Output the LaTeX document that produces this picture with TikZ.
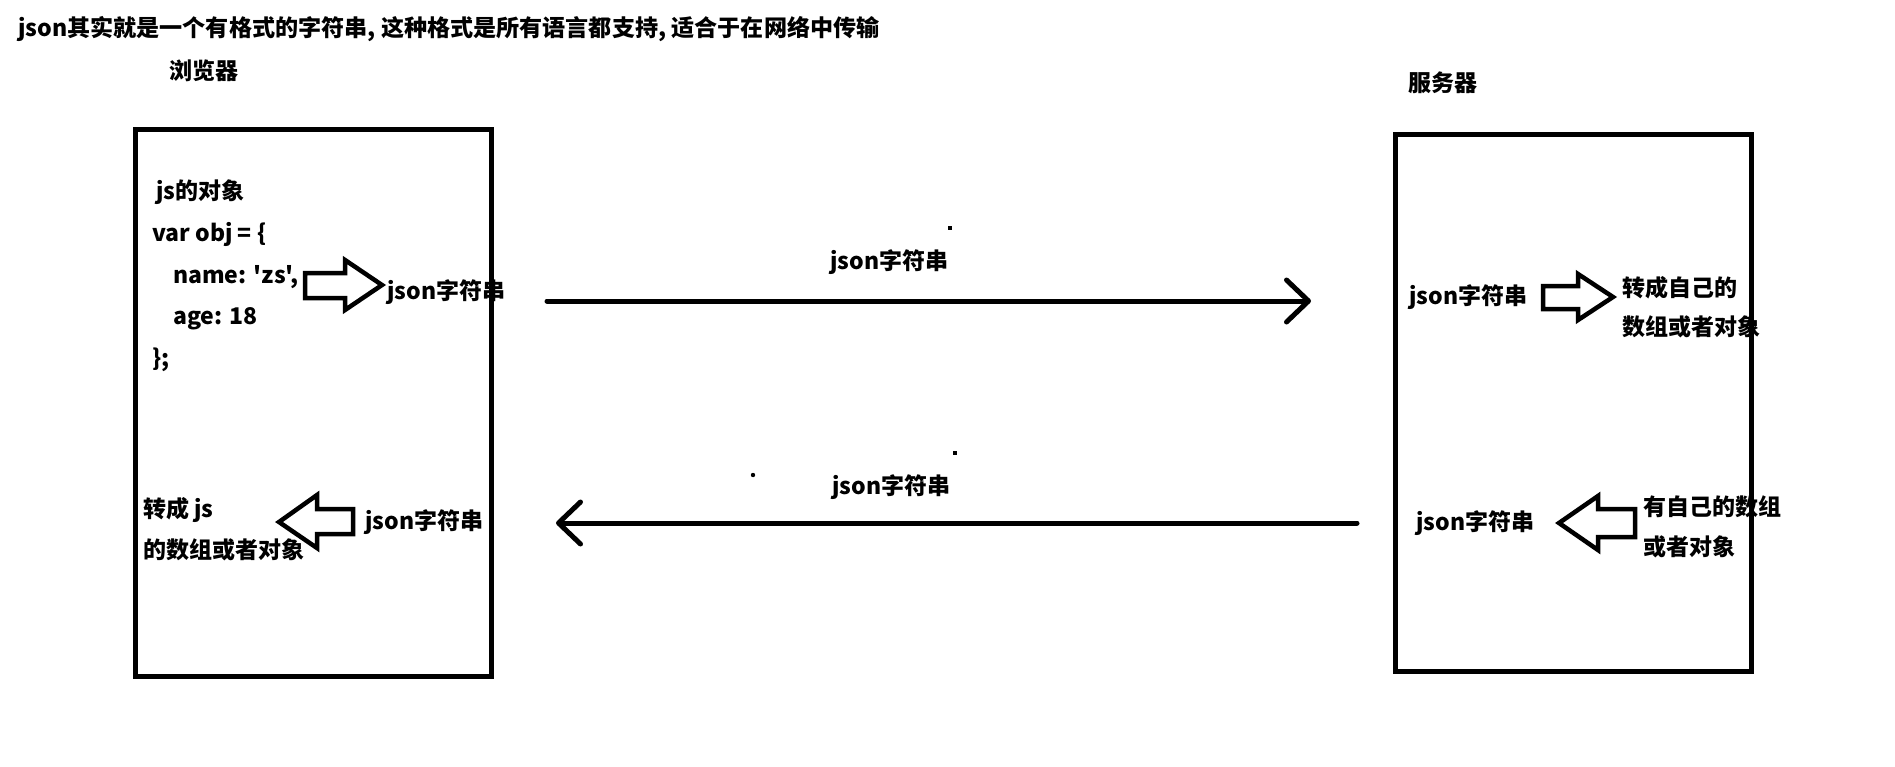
\documentclass[tikz,border=0pt]{standalone}
\usepackage{fontspec}
\setmainfont{Noto Sans CJK SC}[Ligatures=TeXOff]
\usetikzlibrary{arrows.meta}
\tikzset{
  txt/.style={anchor=west, inner sep=0pt, font=\fontsize{23}{28}\selectfont\bfseries},
  bigtxt/.style={anchor=west, inner sep=0pt, font=\fontsize{23.1}{28}\selectfont\bfseries},
  framebox/.style={draw, line width=5pt, line join=miter},
  blockarrow/.style={draw, line width=4.5pt, line join=miter},
  flow/.style={line width=5pt, line cap=round,
    -{Straight Barb[length=22pt,width=42pt,line width=5pt,round]}},
  speck/.style={fill=black, draw=none}
}
\begin{document}
\begin{tikzpicture}[x=1pt,y=-1pt]
\useasboundingbox (0,0) rectangle (1895,766);
\fill[white] (0,0) rectangle (1895,766);

% frames
\draw[framebox] (135,129) rectangle (491,676);
\coordinate (browserC) at (313,402);
\draw[framebox] (1395,134) rectangle (1751,671);
\coordinate (serverC) at (1573,402);

% titles
\node[bigtxt] (title) at (18,29) {json其实就是一个有格式的字符串, 这种格式是所有语言都支持, 适合于在网络中传输};
\node[txt] (browser) at (169,71) {浏览器};
\node[txt] (server) at (1408,83) {服务器};

% left box, top
\node[txt] (jsobj) at (156,192) {js的对象};
\node[txt] (l1) at (152,234) {var obj = \{};
\node[txt] (l2) at (173,277) {name: 'zs',};
\node[txt] (l3) at (173,319) {age: 18};
\node[txt] (l4) at (152,360) {\};};
\draw[blockarrow] (305,273) -- (345,273) -- (345,260) -- (382,285) -- (345,310) -- (345,298) -- (305,298) -- cycle;
\node[txt] (ljson1) at (387,292) {json字符串};

% left box, bottom
\node[txt] (conv1) at (143,510) {转成 js};
\node[txt] (conv2) at (143,550) {的数组或者对象};
\draw[blockarrow] (279,522) -- (317,495) -- (317,509) -- (353,509) -- (353,534) -- (317,534) -- (317,548) -- cycle;
\node[txt] (ljson2) at (365,522) {json字符串};

% middle
\coordinate (a1s) at (547,301);
\coordinate (a1e) at (1311,301);
\draw[flow] (a1s) -- (a1e);
\node[txt] (mjson1) at (830,262) {json字符串};
\coordinate (a2s) at (1357,523);
\coordinate (a2e) at (556,523);
\draw[flow] (a2s) -- (a2e);
\node[txt] (mjson2) at (832,487) {json字符串};
\fill[speck] (948,226) rectangle (952,230);
\fill[speck] (953,451) rectangle (957,455);
\fill[speck] (753,475) circle (2.2);

% right box, top
\node[txt] (rjson1) at (1409,297) {json字符串};
\draw[blockarrow] (1543,286) -- (1578,286) -- (1578,274) -- (1613,297) -- (1578,320) -- (1578,309) -- (1543,309) -- cycle;
\node[txt] (rconv1) at (1622,288) {转成自己的};
\node[txt] (rconv2) at (1622,327) {数组或者对象};

% right box, bottom
\node[txt] (rjson2) at (1416,523) {json字符串};
\draw[blockarrow] (1559,523) -- (1598,496) -- (1598,509) -- (1635,509) -- (1635,537) -- (1598,537) -- (1598,550) -- cycle;
\node[txt] (rown1) at (1643,507) {有自己的数组};
\node[txt] (rown2) at (1643,547) {或者对象};
\end{tikzpicture}
\end{document}
